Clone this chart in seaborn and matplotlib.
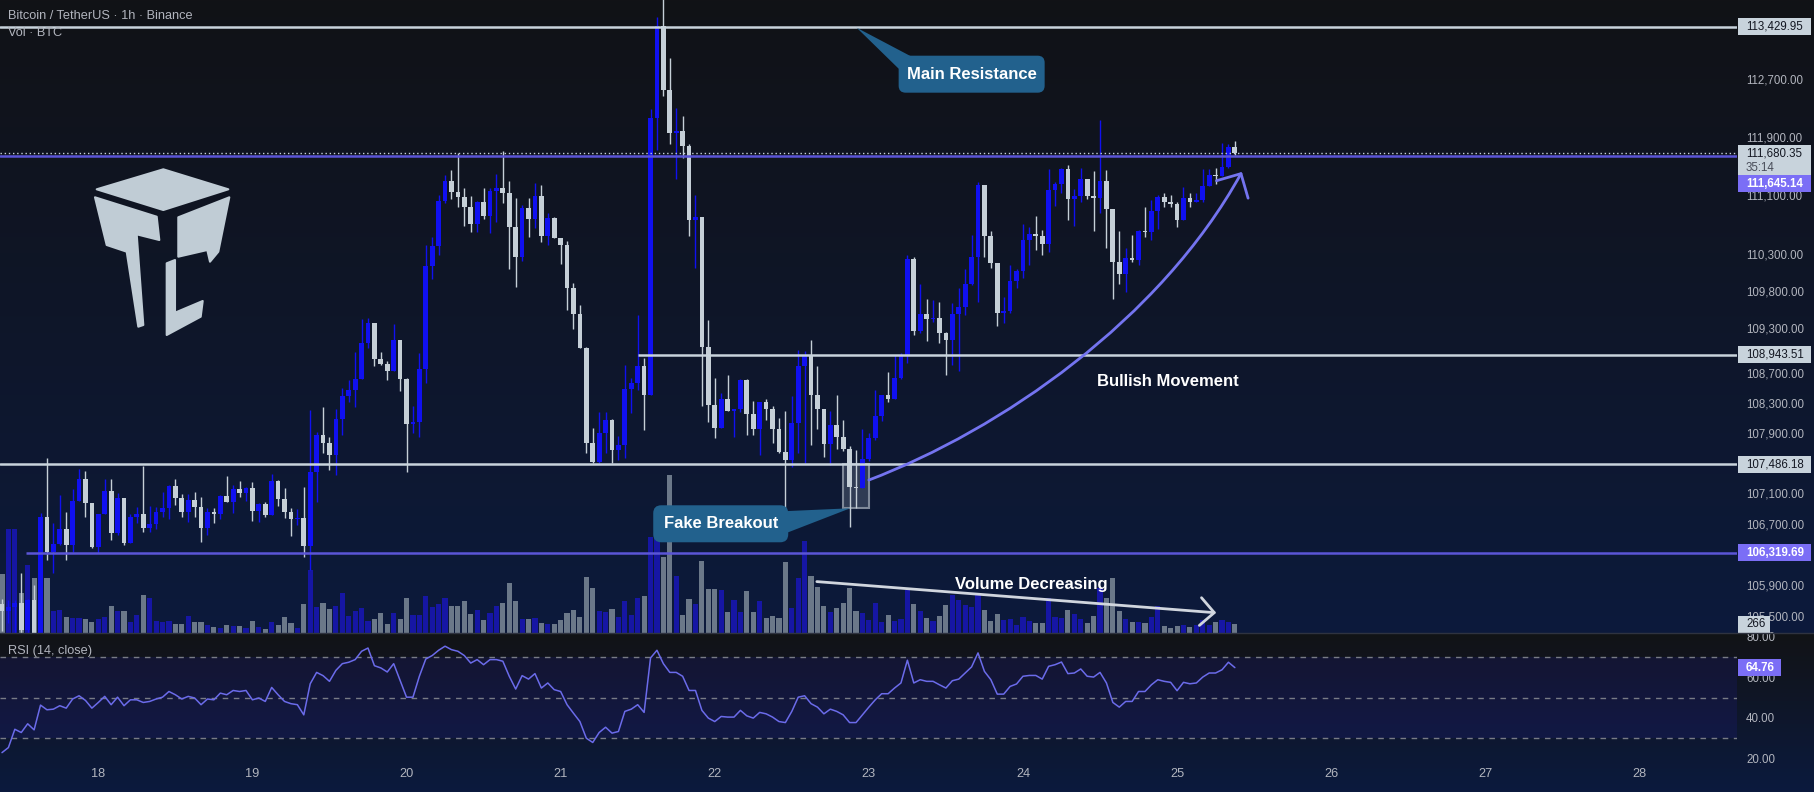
import numpy as np
import pandas as pd
import matplotlib
matplotlib.use("Agg")
import matplotlib.pyplot as plt
import seaborn as sns
from matplotlib.colors import to_rgb
from matplotlib.patches import Rectangle, Polygon, FancyBboxPatch, FancyArrowPatch
from matplotlib.path import Path
from matplotlib.ticker import NullLocator

W, H = 1815, 792

# ── Data: BTCUSDT 1h candles ────────────────────────────────
times = pd.date_range("2025-07-17 09:00", periods=193, freq="h")
first_open = 105650

closes = [
    105560, 105610, 105665, 105310, 105700, 105270, 106793, 106334, 106435, 106628,
    106422, 106999, 107285, 106977, 106400, 106824, 107131, 106575, 107042, 106444,
    106793, 106829, 106641, 106693, 106859, 106903, 107197, 107042, 106859, 107012,
    106924, 106641, 106859, 106824, 107065, 106990, 107153, 107100, 107174, 106872,
    106960, 106816, 107263, 107021, 106859, 106759, 106780, 106409, 107386, 107871,
    107762, 107607, 108085, 108391, 108471, 108614, 109096, 109365, 108886, 108819,
    108729, 109141, 108618, 108018, 108049, 108748, 110139, 110410, 111023, 111297,
    111151, 111082, 110946, 110710, 111010, 110819, 111160, 111197, 111137, 110674,
    110265, 110932, 110782, 111092, 110551, 110792, 110523, 110424, 109846, 109491,
    109037, 107762, 107518, 107894, 108071, 107673, 107739, 108480, 108566, 108786,
    108404, 112157, 113433, 112552, 111960, 111989, 111775, 110770, 110804, 109046,
    108272, 107966, 108348, 108186, 108212, 108610, 108147, 107956, 108310, 108212,
    107946, 107644, 107536, 108033, 108786, 108938, 108403, 108217, 107751, 108001,
    107849, 107686, 107190, 107173, 107551, 107832, 108130, 108403, 108348, 108637,
    108922, 110231, 109256, 109486, 109420, 109435, 109237, 109143, 109492, 109578,
    109896, 110255, 111247, 110552, 110185, 109507, 109531, 109933, 110076, 110490,
    110576, 110552, 110433, 111174, 111257, 111462, 111044, 111092, 111318, 111092,
    111063, 111294, 110920, 110194, 110028, 110251, 110217, 110613, 110600, 110886,
    111078, 111015, 110983, 110758, 111064, 111015, 111030, 111231, 111375, 111362,
    111487, 111761, 111680,
]
highs = [
    105720, 105700, 105700, 106050, 105720, 105900, 106837, 107563, 106706, 107078,
    106859, 107153, 107418, 107395, 106977, 106824, 107285, 107285, 107100, 107042,
    106829, 106924, 107461, 106937, 106917, 107122, 107210, 107285, 107091, 107091,
    107122, 107048, 106903, 106903, 107078, 107329, 107210, 107263, 107188, 107254,
    106969, 106990, 107355, 107276, 107170, 106903, 106890, 107188, 108204, 107915,
    108248, 107849, 108213, 108494, 108605, 108983, 109419, 109440, 109365, 108975,
    108863, 109356, 109141, 108627, 108257, 108962, 110424, 110529, 111106, 111380,
    111448, 111677, 111197, 111092, 111023, 111197, 111197, 111393, 111708, 111297,
    111060, 110969, 111060, 111265, 111243, 110855, 110810, 110523, 110478, 109905,
    109612, 109046, 107961, 108181, 108181, 108085, 107858, 108806, 108626, 109477,
    108899, 112281, 113565, 113850, 112994, 112298, 112197, 111810, 111104, 110804,
    109404, 108636, 108435, 108676, 108212, 108621, 108621, 108326, 108310, 108348,
    108255, 108103, 108186, 108392, 109003, 108992, 109146, 108786, 108217, 108186,
    108403, 108066, 107730, 107676, 107946, 107902, 108474, 108403, 108709, 108938,
    108964, 110287, 110259, 109900, 109690, 109682, 109648, 109247, 109635, 109839,
    110101, 110566, 111285, 111247, 110613, 110185, 109719, 110149, 110101, 110710,
    110663, 110815, 110634, 111463, 111285, 111477, 111511, 111184, 111477, 111318,
    111439, 112130, 111448, 110920, 110613, 110385, 110562, 110634, 110935, 111030,
    111102, 111126, 111111, 111006, 111221, 111126, 111126, 111463, 111463, 111477,
    111816, 111801, 111849,
]
lows = [
    105300, 105400, 105276, 105270, 105280, 105200, 105250, 106226, 106052, 106422,
    106226, 106334, 106999, 106793, 106378, 106313, 106824, 106487, 106553, 106422,
    106444, 106706, 106596, 106596, 106628, 106785, 106759, 106946, 106793, 106727,
    106793, 106465, 106553, 106714, 106759, 106990, 106846, 107056, 107003, 106740,
    106727, 106793, 106816, 106933, 106780, 106544, 106684, 106269, 106096, 106990,
    107629, 107409, 107343, 107871, 108314, 108240, 108614, 109037, 108792, 108806,
    108605, 108729, 108462, 107386, 107894, 107849, 108569, 109959, 110288, 110992,
    111051, 110946, 110683, 110605, 110605, 110782, 110592, 110741, 111001, 110104,
    109851, 110211, 110537, 110660, 110469, 110420, 110523, 110166, 109544, 109289,
    109037, 107637, 107497, 107497, 107637, 107497, 107541, 107563, 108164, 108474,
    107932, 108404, 111719, 112468, 111810, 111327, 111607, 110548, 110105, 108255,
    108039, 107838, 107966, 108186, 107849, 108175, 107876, 107876, 107606, 108066,
    107767, 107632, 106852, 107444, 107632, 107497, 107741, 107956, 107579, 107471,
    107686, 107660, 106654, 106904, 107173, 107525, 107806, 108055, 108310, 108348,
    108621, 108831, 109201, 109239, 109130, 109388, 109096, 108673, 108800, 108729,
    109482, 109886, 109648, 110265, 110109, 109332, 109365, 109507, 109839, 109980,
    110149, 110361, 110289, 110327, 110958, 111126, 110768, 110682, 111006, 111054,
    110609, 110863, 110385, 109695, 109900, 109790, 110194, 110158, 110528, 110490,
    110647, 110935, 110935, 110672, 110758, 110944, 111006, 111015, 111231, 111257,
    111362, 111477, 111655,
]
volume = [
    1770, 3120, 3120, 1200, 2040, 1650, 1800, 1650, 660, 690,
    480, 450, 450, 420, 330, 420, 480, 810, 660, 660,
    330, 540, 1140, 1050, 360, 330, 360, 270, 270, 510,
    330, 330, 240, 180, 150, 240, 210, 210, 150, 360,
    180, 120, 330, 240, 480, 300, 150, 870, 1890, 780,
    900, 720, 810, 1200, 510, 660, 750, 360, 420, 600,
    270, 600, 420, 1050, 540, 540, 1110, 780, 870, 1050,
    810, 810, 960, 570, 690, 390, 600, 810, 900, 1500,
    960, 420, 420, 450, 300, 270, 270, 390, 600, 690,
    480, 1680, 1350, 660, 630, 720, 480, 960, 540, 1050,
    1110, 2880, 2880, 2280, 4740, 1710, 540, 1020, 870, 2160,
    1320, 1320, 1290, 630, 990, 630, 1260, 630, 960, 450,
    510, 450, 2130, 750, 1650, 2760, 1710, 1380, 810, 630,
    750, 900, 1350, 660, 600, 390, 900, 330, 540, 360,
    420, 1290, 870, 660, 450, 360, 510, 840, 1140, 990,
    840, 780, 1140, 690, 360, 570, 390, 420, 240, 480,
    360, 300, 300, 1050, 480, 450, 690, 570, 420, 300,
    510, 1350, 1050, 1650, 660, 420, 330, 330, 300, 480,
    810, 210, 150, 210, 240, 180, 240, 390, 240, 330,
    390, 330, 266,
]
rsi = [
    22.9, 25.4, 34.4, 32.8, 37.1, 34.1, 46.3, 44.0, 44.3, 46.0,
    44.8, 49.3, 50.9, 48.6, 44.8, 47.6, 50.6, 46.5, 50.2, 46.0,
    48.9, 48.9, 47.6, 48.1, 49.3, 50.2, 53.0, 51.4, 49.3, 50.6,
    49.8, 46.5, 49.3, 48.9, 52.2, 51.4, 53.5, 53.0, 53.5, 48.9,
    49.8, 48.1, 55.0, 51.4, 48.1, 47.0, 46.5, 41.5, 56.8, 62.4,
    60.8, 58.0, 63.4, 66.7, 67.4, 68.7, 72.8, 74.4, 65.7, 64.6,
    62.6, 66.7, 58.5, 50.2, 50.2, 60.5, 69.0, 70.7, 73.3, 75.3,
    73.6, 72.8, 70.7, 67.0, 68.7, 66.2, 68.7, 68.7, 67.9, 60.5,
    54.2, 60.8, 59.1, 61.8, 54.7, 57.2, 53.9, 53.0, 46.5, 42.3,
    38.2, 30.0, 27.9, 32.8, 35.4, 32.5, 33.3, 43.2, 44.3, 46.5,
    42.7, 69.5, 73.3, 66.7, 62.4, 62.4, 60.5, 53.5, 53.5, 43.7,
    39.9, 38.2, 40.7, 40.4, 40.4, 43.7, 41.0, 39.9, 42.7, 42.0,
    40.4, 38.2, 37.7, 43.2, 50.2, 50.9, 47.0, 45.3, 42.0, 44.3,
    43.2, 41.5, 37.7, 37.7, 41.5, 45.3, 48.9, 51.9, 51.9, 54.7,
    57.2, 68.4, 57.2, 58.8, 58.0, 58.0, 56.3, 54.7, 58.3, 59.1,
    62.1, 65.1, 72.0, 62.9, 58.8, 51.7, 51.7, 55.5, 56.7, 60.5,
    60.9, 60.9, 59.1, 65.4, 66.2, 67.5, 61.8, 62.1, 64.1, 60.5,
    60.1, 62.4, 57.2, 47.6, 45.3, 48.1, 48.1, 53.0, 53.0, 56.3,
    58.8, 58.0, 57.5, 53.4, 57.5, 56.8, 57.2, 60.1, 62.1, 62.1,
    63.7, 67.4, 64.76,
]

price_ticks = [113500, 112700, 111900, 111100, 110300, 109800, 109300,
               108700, 108300, 107900, 107100, 106700, 105900, 105500]
rsi_ticks = [20, 40, 60, 80]
day_labels = ["18", "19", "20", "21", "22", "23", "24", "25", "26", "27", "28"]

resistance = 113429.95
last_price = 111680.35
line_price = 111645.14
level_mid = 108943.51
support = 107486.18
level_low = 106319.69
timer_text = "35:14"

# ── Style ───────────────────────────────────────────────────
sns.set_theme(style="dark")
plt.rcParams["font.family"] = ["Liberation Sans", "DejaVu Sans"]

UP, DOWN = "#1010f0", "#c5cfd7"
VOL_UP, VOL_DOWN = "#1616a4", "#6b7889"
AXIS_TXT = "#b2b5be"
LIGHT_BOX = "#c8d3dc"
PURPLE = "#5b55d6"
PURPLE_BOX = "#7b6ef6"
CALLOUT = "#22618d"
ARROW = "#7474f0"
NOTE_FS = 12

t0 = pd.Timestamp("2025-07-18")
hours = ((times - t0) / pd.Timedelta(hours=1)).to_numpy(float)
day_hours = ((pd.date_range(t0, periods=len(day_labels), freq="D") - t0)
             / pd.Timedelta(hours=1)).to_numpy(float)
XLIM = (-15.31, 255.2)

o = np.array([first_open] + closes[:-1], float)
c = np.array(closes, float)
hi = np.array(highs, float)
lo = np.array(lows, float)
up = c >= o

fig = plt.figure(figsize=(W / 100, H / 100), dpi=100)


def frac(x0, y0, x1, y1):
    return [x0 / W, 1 - y1 / H, (x1 - x0) / W, (y1 - y0) / H]


def ramp(c0, c1, n):
    a, b = np.array(to_rgb(c0)), np.array(to_rgb(c1))
    return a + (b - a) * np.linspace(0, 1, n)[:, None]


# background gradient (price pane, then rsi pane + time axis)
bg = np.vstack([ramp("#111216", "#0c1a3c", 633), ramp("#121316", "#0b1a3e", H - 633)])
ax_bg = fig.add_axes([0, 0, 1, 1], zorder=0)
ax_bg.imshow(bg[:, None, :], aspect="auto", extent=(0, W, H, 0))
ax_bg.set_xlim(0, W)
ax_bg.set_ylim(H, 0)
ax_bg.axis("off")

# ── Price pane ──────────────────────────────────────────────
ax = fig.add_axes(frac(0, 0, 1737, 633), zorder=2)
axv = ax.twinx()
axv.set_zorder(1)
for a in (ax, axv):
    a.patch.set_visible(False)
    for s in a.spines.values():
        s.set_visible(False)
    a.grid(False)

axv.bar(hours, volume, width=0.8, color=np.where(up, VOL_UP, VOL_DOWN), linewidth=0)
axv.set_ylim(0, 633 * 30)
axv.set_yticks([])

ax.set_yscale("log")
ax.vlines(hours, lo, hi, colors=np.where(up, UP, DOWN), linewidth=1, zorder=3)
ax.bar(hours, np.maximum(np.abs(c - o), 9), bottom=np.minimum(o, c), width=0.74,
       color=np.where(up, UP, DOWN), linewidth=0, zorder=4)

ax.add_patch(Rectangle((116.0, 106904), 4.1, support - 106904,
                       facecolor=(0.45, 0.50, 0.58, 0.35), edgecolor="#7f8999",
                       linewidth=1.5, zorder=2))

ax.axhline(resistance, color=LIGHT_BOX, lw=1.8, zorder=5)
ax.axhline(line_price, color=PURPLE, lw=1.8, zorder=5)
ax.axhline(last_price, color=LIGHT_BOX, lw=1, ls=(0, (1, 2)), zorder=5)
ax.hlines(level_mid, 84, XLIM[1], color=LIGHT_BOX, lw=1.8, zorder=5)
ax.axhline(support, color=LIGHT_BOX, lw=1.8, zorder=5)
ax.hlines(level_low, -11.3, XLIM[1], color=PURPLE, lw=1.8, zorder=5)

ax.set_xlim(*XLIM)
ax.set_ylim(105276, 113803)
ax.yaxis.tick_right()
ax.yaxis.set_minor_locator(NullLocator())
ax.set_yticks(price_ticks)
ax.set_yticklabels([f"{v:,.2f}" for v in price_ticks])
ax.tick_params(axis="y", length=0, pad=6.5, labelsize=8.3, labelcolor=AXIS_TXT)
ax.set_xticks([])

# ── RSI pane ────────────────────────────────────────────────
ax_rsi = fig.add_axes(frac(0, 633, 1737, 764), zorder=2)
ax_rsi.patch.set_visible(False)
for s in ax_rsi.spines.values():
    s.set_visible(False)
ax_rsi.grid(False)
ax_rsi.axhspan(30, 70, color="#2d1fd0", alpha=0.13, lw=0)
for lvl in (70, 50, 30):
    ax_rsi.axhline(lvl, color="#787b86", lw=1, ls=(0, (4, 4)))
sns.lineplot(x=hours, y=rsi, ax=ax_rsi, color="#6b6bea", lw=1.1)
ax_rsi.set_xlim(*XLIM)
ax_rsi.set_ylim(17.3, 81.8)
ax_rsi.yaxis.tick_right()
ax_rsi.set_yticks(rsi_ticks)
ax_rsi.set_yticklabels([f"{v:.2f}" for v in rsi_ticks])
ax_rsi.set_xticks(day_hours)
ax_rsi.set_xticklabels(day_labels)
ax_rsi.tick_params(axis="y", length=0, pad=6.5, labelsize=8.3, labelcolor=AXIS_TXT)
ax_rsi.tick_params(axis="x", length=0, pad=3, labelsize=9.2, labelcolor=AXIS_TXT)
ax_rsi.set_xlabel("")
ax_rsi.set_ylabel("")

# ── Overlay (pixel space) ───────────────────────────────────
ov = fig.add_axes([0, 0, 1, 1], zorder=5)
ov.set_xlim(0, W)
ov.set_ylim(H, 0)
ov.axis("off")


def px(a, x, y):
    dx, dy = a.transData.transform((x, y))
    return dx, H - dy


def tag(y, text, bg, fg, x1=1811, h=17, weight="normal"):
    ov.add_patch(Rectangle((1738, y - h / 2), x1 - 1738, h, facecolor=bg, lw=0))
    ov.text(1746, y, text, color=fg, fontsize=8.3, va="center", ha="left", weight=weight)


ov.plot([0, W], [633, 633], color="#2f3340", lw=1)

tag(px(ax, 0, resistance)[1], f"{resistance:,.2f}", LIGHT_BOX, "#131722")
y0 = px(ax, 0, last_price)[1]
ov.add_patch(Rectangle((1738, y0 - 8), 73, 30, facecolor=LIGHT_BOX, lw=0))
ov.text(1746, y0, f"{last_price:,.2f}", color="#131722", fontsize=8.3, va="center")
ov.text(1746, y0 + 14.5, timer_text, color="#4a4e5a", fontsize=8.3, va="center")
tag(y0 + 30.5, f"{line_price:,.2f}", PURPLE_BOX, "white", weight="bold")
tag(px(ax, 0, level_mid)[1], f"{level_mid:,.2f}", LIGHT_BOX, "#131722")
tag(px(ax, 0, support)[1], f"{support:,.2f}", LIGHT_BOX, "#131722")
tag(px(ax, 0, level_low)[1], f"{level_low:,.2f}", PURPLE_BOX, "white", weight="bold")
tag(px(axv, 0, volume[-1])[1], f"{volume[-1]}", LIGHT_BOX, "#131722", x1=1770)
tag(px(ax_rsi, 0, rsi[-1])[1], f"{rsi[-1]:.2f}", PURPLE_BOX, "white", x1=1781, weight="bold")

ov.text(8, 16, "Bitcoin / TetherUS · 1h · Binance", color=AXIS_TXT, fontsize=9.2, va="center")
ov.text(8, 33, "Vol · BTC", color=AXIS_TXT, fontsize=9.2, va="center")
ov.text(8, 651, "RSI (14, close)", color=AXIS_TXT, fontsize=9.2, va="center")

# logo watermark
LOGO = "#c0ccd5"
for pts in [
    [(96.7, 189.3), (163.3, 169.3), (228.3, 189.3), (163.3, 210)],
    [(95, 197.3), (156.7, 216.7), (159.3, 240), (136.7, 234.3), (143.3, 325),
     (138.3, 326.7), (126.7, 251.7), (106.7, 245)],
    [(178.3, 217.3), (229.3, 197.3), (218.3, 251.7), (210, 261.7), (207.3, 250), (178.3, 256.7)],
    [(166.7, 263.3), (175, 260), (175, 312.7), (202.7, 301), (200.7, 316.7), (166.7, 335)],
]:
    ov.add_patch(Polygon(pts, closed=True, facecolor=LOGO, edgecolor=LOGO, lw=1.5, joinstyle="round"))

# Main Resistance callout
tx, ty = px(ax, 118.1, resistance)
ov.add_patch(Polygon([(tx, ty + 1), (tx + 55, ty + 30), (tx + 42, ty + 42)], facecolor=CALLOUT, lw=0))
ov.add_patch(FancyBboxPatch((tx + 42, ty + 29), 146, 37, boxstyle="round,pad=0,rounding_size=7",
                            facecolor=CALLOUT, lw=0))
ov.text(tx + 115, ty + 47.5, "Main Resistance", color="white", fontsize=NOTE_FS, weight="bold",
        ha="center", va="center")

# Fake Breakout callout
fx, fy = px(ax, 117.1, 106904)
ov.add_patch(Polygon([(fx - 90, fy + 4), (fx, fy), (fx - 62, fy + 24)], facecolor=CALLOUT, lw=0))
ov.add_patch(FancyBboxPatch((fx - 197, fy - 3), 135, 37, boxstyle="round,pad=0,rounding_size=8",
                            facecolor=CALLOUT, lw=0))
ov.text(fx - 129.5, fy + 15.5, "Fake Breakout", color="white", fontsize=NOTE_FS, weight="bold",
        ha="center", va="center")

# Bullish movement arrow
verts = [px(ax, 120.0, 107276), px(ax, 140.5, 107939), px(ax, 165.4, 109410), px(ax, 178.1, 111421)]
curve = Path(verts, [Path.MOVETO, Path.CURVE4, Path.CURVE4, Path.CURVE4])
ov.add_patch(FancyArrowPatch(path=curve, arrowstyle="->,head_length=0.5,head_width=0.5",
                             mutation_scale=26, color=ARROW, lw=2))
bx, by = px(ax, 166.5, 108578)
ov.text(bx, by, "Bullish Movement", color="white", fontsize=NOTE_FS, weight="bold",
        ha="center", va="center")

# Volume decreasing arrow
ov.add_patch(FancyArrowPatch(px(axv, 111.9, 1542), px(axv, 174.1, 606),
                             arrowstyle="->,head_length=0.5,head_width=0.5", mutation_scale=20,
                             color="#d1d6de", lw=2, shrinkA=0, shrinkB=0))
vx, vy = px(axv, 145.3, 1470)
ov.text(vx, vy, "Volume Decreasing", color="white", fontsize=NOTE_FS, weight="bold",
        ha="center", va="center")

fig.savefig("out.png", dpi=100)
